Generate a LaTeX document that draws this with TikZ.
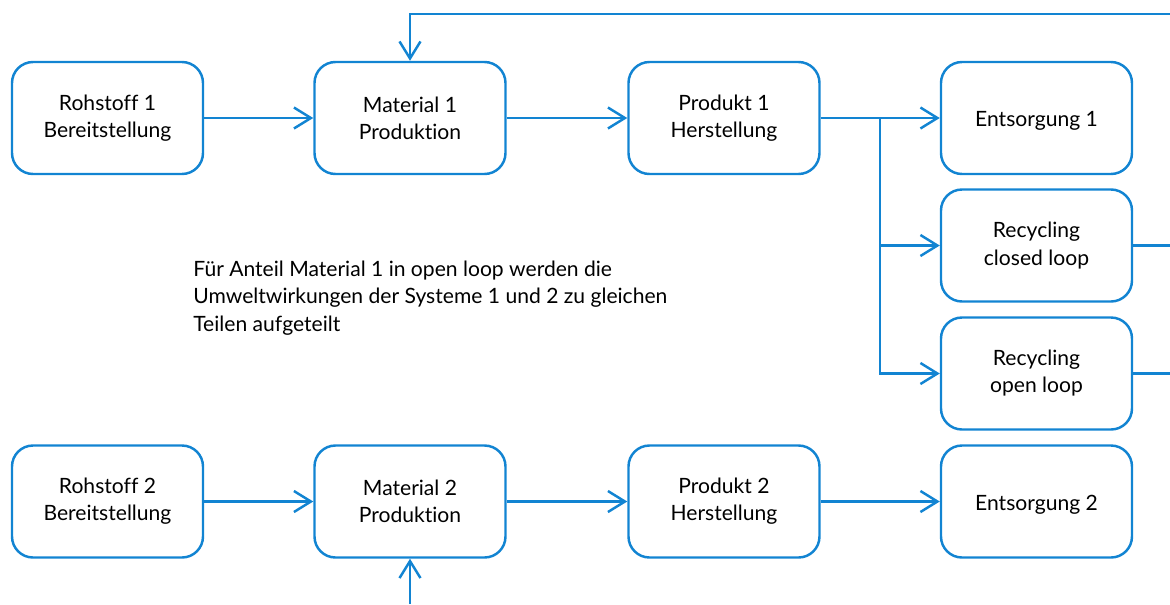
\documentclass[tikz,border=0pt]{standalone}
\usepackage{fontspec}
\setmainfont{Lato}[Ligatures={NoCommon,NoRare}]
\usetikzlibrary{arrows.meta}
\definecolor{flowblue}{RGB}{18,132,210}
\tikzset{
  stage/.style={draw=flowblue, line width=1.4pt, rounded corners=0.42cm, minimum width=3.82cm, minimum height=2.24cm, align=center, font=\fontsize{12}{15.4}\selectfont, execute at begin node={\rule{0pt}{0.42cm}}},
  flow/.style={draw=flowblue, line width=1.4pt, -{Straight Barb[length=3.4mm,width=4.2mm,line width=1.4pt]}},
  line/.style={draw=flowblue, line width=1.4pt}
}
\begin{document}
\begin{tikzpicture}
\useasboundingbox (0,0) rectangle (23.4,-12.08);

\node (roh1) at (2.15,-2.36) [stage]{Rohstoff 1\\Bereitstellung};
\node (mat1) at (8.2,-2.36) [stage]{Material 1\\Produktion};
\node (prod1) at (14.48,-2.36) [stage]{Produkt 1\\Herstellung};
\node (ent1) at (20.73,-2.36) [stage]{Entsorgung 1};
\node (recC) at (20.73,-4.91) [stage]{Recycling\\closed loop};
\node (recO) at (20.73,-7.47) [stage]{Recycling\\open loop};

\node (roh2) at (2.15,-10.03) [stage]{Rohstoff 2\\Bereitstellung};
\node (mat2) at (8.2,-10.03) [stage]{Material 2\\Produktion};
\node (prod2) at (14.48,-10.03) [stage]{Produkt 2\\Herstellung};
\node (ent2) at (20.73,-10.03) [stage]{Entsorgung 2};

\node (note) at (3.86,-5.22) [anchor=north west, inner sep=0pt, align=left, font=\fontsize{12}{15.4}\selectfont]{F\"ur Anteil Material 1 in open loop werden die\\Umweltwirkungen der Systeme 1 und 2 zu gleichen\\Teilen aufgeteilt};

\coordinate (topR) at (23.4,-0.28);
\coordinate (split) at (17.6,-2.36);
\coordinate (rightE) at (23.4,-12.08);
\coordinate (botIn) at (8.2,-12.08);

\draw [flow] (roh1) -- (mat1);
\draw [flow] (mat1) -- (prod1);
\draw [flow] (prod1) -- (ent1);
\draw [flow] (split) |- (recC);
\draw [flow] (split) |- (recO);
\draw [flow] (topR) -| (mat1);
\draw [line] (recC.east) -- (recC.east -| rightE);
\draw [line] (recO.east) -- (recO.east -| rightE);

\draw [flow] (roh2) -- (mat2);
\draw [flow] (mat2) -- (prod2);
\draw [flow] (prod2) -- (ent2);
\draw [flow] (botIn) -- (mat2);

\end{tikzpicture}
\end{document}
